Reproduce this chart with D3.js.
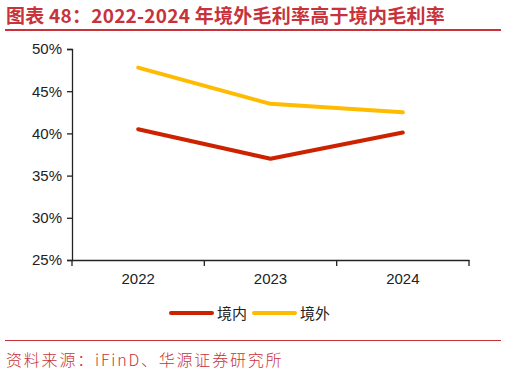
<!DOCTYPE html>
<html>
<head>
<meta charset="utf-8">
<script src="https://cdn.jsdelivr.net/npm/d3@7"></script>
<style>
  body { margin: 0; background: #fff; }
  svg { display: block; }
</style>
</head>
<body>
<script>
var years = ["2022", "2023", "2024"];
var seriesNames = ["境内", "境外"];
var domestic = [40.5, 37.0, 40.1];
var overseas = [47.8, 43.5, 42.5];
var yTicks = [25, 30, 35, 40, 45, 50];
var colors = ["#cc2200", "#ffbb00"];

var width = 506, height = 374;
var margin = {left: 72, right: 37, top: 49, bottom: 114};

var svg = d3.select("body").append("svg")
  .attr("width", width)
  .attr("height", height);

var red = "#c8323a";

// title
svg.append("text")
  .attr("x", 6)
  .attr("y", 23)
  .attr("fill", red)
  .attr("font-family", "'Noto Sans CJK SC', sans-serif")
  .attr("font-weight", "bold")
  .attr("font-size", 19)
  .attr("letter-spacing", 0.25)
  .text("图表 48：2022-2024 年境外毛利率高于境内毛利率");

svg.append("line")
  .attr("x1", 5).attr("x2", 501)
  .attr("y1", 30).attr("y2", 30)
  .attr("stroke", red).attr("stroke-width", 2);

var x = d3.scaleBand()
  .domain(years)
  .range([margin.left, width - margin.right]);

var y = d3.scaleLinear()
  .domain([25, 50])
  .range([height - margin.bottom, margin.top]);

// axes
var yAxis = svg.append("g")
  .attr("transform", "translate(" + margin.left + ",0)")
  .call(d3.axisLeft(y).tickValues(yTicks).tickSize(5).tickPadding(5)
    .tickFormat(function(d) { return d + "%"; }));

var xAxis = svg.append("g")
  .attr("transform", "translate(0," + (height - margin.bottom) + ")")
  .call(d3.axisBottom(x).tickSize(0).tickPadding(13));

// x ticks sit between categories
xAxis.selectAll(".edge")
  .data([margin.left].concat(years.map(function(d) { return x(d) + x.bandwidth(); })))
  .enter().append("line")
  .attr("class", "edge")
  .attr("x1", function(d) { return d; })
  .attr("x2", function(d) { return d; })
  .attr("y1", 0).attr("y2", 6)
  .attr("stroke", "#222").attr("stroke-width", 1.3);

[yAxis, xAxis].forEach(function(g) {
  g.select(".domain").attr("stroke", "#222").attr("stroke-width", 1.3);
  g.selectAll(".tick line").attr("stroke", "#222").attr("stroke-width", 1.3);
  g.selectAll("text")
    .attr("font-family", "'Liberation Sans', Arial, sans-serif")
    .attr("font-size", 15)
    .attr("fill", "#222");
});

// lines
var line = d3.line()
  .x(function(d, i) { return x(years[i]) + x.bandwidth() / 2; })
  .y(function(d) { return y(d); });

[domestic, overseas].forEach(function(s, i) {
  svg.append("path")
    .datum(s)
    .attr("fill", "none")
    .attr("stroke", colors[i])
    .attr("stroke-width", 4)
    .attr("stroke-linecap", "round")
    .attr("stroke-linejoin", "round")
    .attr("d", line);
});

// legend
var legend = svg.append("g").attr("transform", "translate(171,313)");
seriesNames.forEach(function(name, i) {
  var g = legend.append("g").attr("transform", "translate(" + (i * 83) + ",0)");
  g.append("line")
    .attr("x1", 0).attr("x2", 41)
    .attr("stroke", colors[i])
    .attr("stroke-width", 4)
    .attr("stroke-linecap", "round");
  g.append("text")
    .attr("x", 46)
    .attr("y", 6)
    .attr("font-family", "'Noto Sans CJK SC', sans-serif")
    .attr("font-size", 15)
    .attr("fill", "#222")
    .text(name);
});

// source
svg.append("line")
  .attr("x1", 5).attr("x2", 501)
  .attr("y1", 340.5).attr("y2", 340.5)
  .attr("stroke", red).attr("stroke-width", 1);

svg.append("text")
  .attr("x", 6)
  .attr("y", 366)
  .attr("fill", red)
  .attr("font-family", "'Noto Sans CJK SC', sans-serif")
  .attr("font-weight", 300)
  .attr("font-size", 16)
  .attr("letter-spacing", 1.8)
  .text("资料来源：iFinD、华源证券研究所");
</script>
</body>
</html>
